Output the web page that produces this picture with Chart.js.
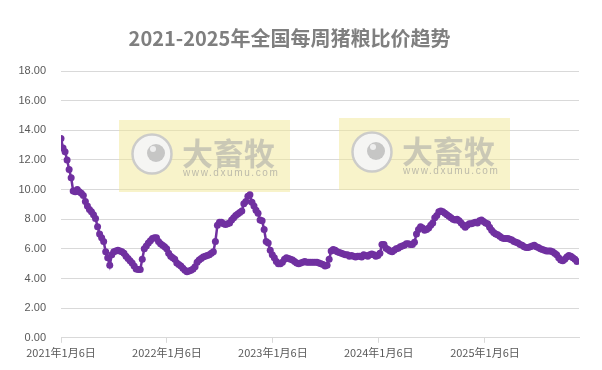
<!DOCTYPE html>
<html>
<head>
<meta charset="utf-8">
<script src="https://cdn.jsdelivr.net/npm/chart.js@4/dist/chart.umd.min.js"></script>
<style>
html,body{margin:0;padding:0;background:#fff;}
#wrap{width:602px;height:370px;position:relative;}
</style>
</head>
<body>
<div id="wrap"><canvas id="c" width="602" height="370"></canvas></div>
<script>
// Weekly pig-grain price ratio, starting 2021-01-06
const startDate = '2021-01-06';
const values2021 = [13.45,12.8,12.55,12.0,11.35,10.8,9.9,9.85,10.0,9.85,9.75,9.6,9.2,8.9,8.65,8.5,8.3,8.05,7.5,7.0,6.75,6.5,5.8,5.4,4.9,5.6,5.8,5.85,5.9,5.85,5.8,5.7,5.5,5.35,5.2,5.05,4.85,4.65,4.6,4.6,5.3,6.0,6.2,6.4,6.55,6.7,6.75,6.75,6.5,6.35,6.25,6.15];
const values2022 = [6.0,5.7,5.5,5.4,5.3,5.05,4.95,4.85,4.7,4.55,4.45,4.5,4.55,4.65,4.8,5.1,5.25,5.35,5.45,5.5,5.55,5.6,5.7,5.8,6.5,7.6,7.8,7.8,7.7,7.65,7.7,7.75,7.95,8.1,8.25,8.35,8.45,8.55,9.05,9.2,9.55,9.65,9.15,8.9,8.6,8.4,7.95,7.9,7.3,6.5,6.4,5.9];
const values2023 = [5.6,5.4,5.15,5.0,5.0,5.1,5.3,5.4,5.35,5.3,5.25,5.15,5.05,5.0,5.05,5.1,5.15,5.1,5.1,5.1,5.1,5.1,5.1,5.05,5.0,4.95,4.85,4.9,5.3,5.85,5.95,5.9,5.8,5.75,5.7,5.65,5.6,5.6,5.5,5.55,5.5,5.45,5.5,5.5,5.45,5.6,5.55,5.5,5.6,5.65,5.6,5.5];
const values2024 = [5.55,5.7,6.3,6.3,6.05,5.95,5.85,5.8,5.9,6.0,6.05,6.15,6.2,6.25,6.35,6.35,6.3,6.3,6.45,7.0,7.3,7.5,7.4,7.25,7.3,7.4,7.6,7.75,8.1,8.25,8.5,8.55,8.5,8.4,8.3,8.2,8.1,8.0,7.95,8.0,7.9,7.75,7.6,7.45,7.6,7.7,7.7,7.75,7.8,7.75,7.9,7.95];
const values2025 = [7.85,7.75,7.7,7.45,7.25,7.1,7.0,6.95,6.85,6.75,6.7,6.7,6.7,6.65,6.6,6.5,6.45,6.4,6.3,6.25,6.15,6.1,6.1,6.15,6.2,6.25,6.15,6.1,6.0,5.95,5.9,5.85,5.85,5.85,5.8,5.7,5.6,5.4,5.25,5.2,5.3,5.45,5.55,5.5,5.4,5.3,5.15];
const tickLabels = ['2021年1月6日','2022年1月6日','2023年1月6日','2024年1月6日','2025年1月6日'];
const tickDays = [0,365,730,1095,1461];
const yTicks = [0,2,4,6,8,10,12,14,16,18];
const seriesName = '猪粮比价';
const titleText = '2021-2025年全国每周猪粮比价趋势';

const allValues = values2021.concat(values2022, values2023, values2024, values2025);
const points = allValues.map((v, i) => ({x: i * 7, y: v}));

const watermark = {
  id: 'watermark',
  beforeDatasetsDraw(chart) {
    const ctx = chart.ctx;
    const boxes = [{x:119, y:120}, {x:339, y:118}];
    ctx.save();
    boxes.forEach(b => {
      ctx.fillStyle = 'rgba(242,232,150,0.5)';
      ctx.fillRect(b.x, b.y, 171, 72);
      const cx = b.x + 33, cy = b.y + 34;
      ctx.beginPath();
      ctx.arc(cx, cy, 19.5, 0, Math.PI * 2);
      ctx.fillStyle = 'rgba(246,246,246,0.95)';
      ctx.fill();
      ctx.lineWidth = 2.5;
      ctx.strokeStyle = 'rgba(200,200,200,0.9)';
      ctx.stroke();
      ctx.beginPath();
      ctx.arc(cx + 4, cy - 1, 9, 0, Math.PI * 2);
      ctx.fillStyle = 'rgba(195,195,195,0.95)';
      ctx.fill();
      ctx.beginPath();
      ctx.arc(cx + 1, cy - 5, 3, 0, Math.PI * 2);
      ctx.fillStyle = 'rgba(238,238,238,1)';
      ctx.fill();
      ctx.fillStyle = 'rgba(165,165,165,0.55)';
      ctx.font = 'bold 31px "Noto Sans CJK SC"';
      ctx.textAlign = 'left';
      ctx.textBaseline = 'middle';
      ctx.fillText('大畜牧', b.x + 63, b.y + 33);
      ctx.font = '10px "Liberation Sans"';
      ctx.letterSpacing = '1.6px';
      ctx.fillStyle = 'rgba(150,150,150,0.6)';
      ctx.fillText('www.dxumu.com', b.x + 64, b.y + 53);
      ctx.letterSpacing = '0px';
    });
    ctx.restore();
  }
};

new Chart(document.getElementById('c'), {
  type: 'line',
  data: {
    datasets: [{
      label: seriesName,
      data: points,
      borderColor: '#7030A0',
      backgroundColor: '#7030A0',
      borderWidth: 2.5,
      pointRadius: 3.5,
      pointBorderWidth: 0,
      pointBackgroundColor: '#7030A0',
      tension: 0
    }]
  },
  options: {
    responsive: false,
    animation: false,
    layout: {padding: {left: 0, right: 23, top: 0, bottom: 8}},
    plugins: {
      legend: {display: false},
      tooltip: {enabled: false},
      title: {
        display: true,
        text: titleText,
        color: '#7f7f7f',
        font: {family: '"Noto Sans CJK SC"', size: 20, weight: 'bold'},
        padding: {top: 26, bottom: 21}
      }
    },
    scales: {
      x: {
        type: 'linear',
        min: 0,
        max: 1785,
        afterBuildTicks(scale) { scale.ticks = tickDays.map(v => ({value: v})); },
        ticks: {
          autoSkip: false,
          maxRotation: 0,
          color: '#595959',
          font: {family: '"Noto Sans CJK SC"', size: 11},
          padding: 3,
          callback(v) { const k = tickDays.indexOf(v); return k >= 0 ? tickLabels[k] : ''; }
        },
        grid: {drawOnChartArea: false, drawTicks: true, tickLength: 5, color: '#d9d9d9'},
        border: {color: '#d9d9d9', width: 1}
      },
      y: {
        min: 0,
        max: 18,
        afterBuildTicks(scale) { scale.ticks = yTicks.map(v => ({value: v})); },
        afterFit(scale) { scale.width = 61; },
        ticks: {
          color: '#595959',
          font: {family: '"Liberation Sans"', size: 11},
          padding: 15,
          callback(v) { return Number(v).toFixed(2); }
        },
        grid: {drawTicks: false, color: '#d9d9d9'},
        border: {display: false}
      }
    }
  },
  plugins: [watermark]
});
</script>
</body>
</html>
